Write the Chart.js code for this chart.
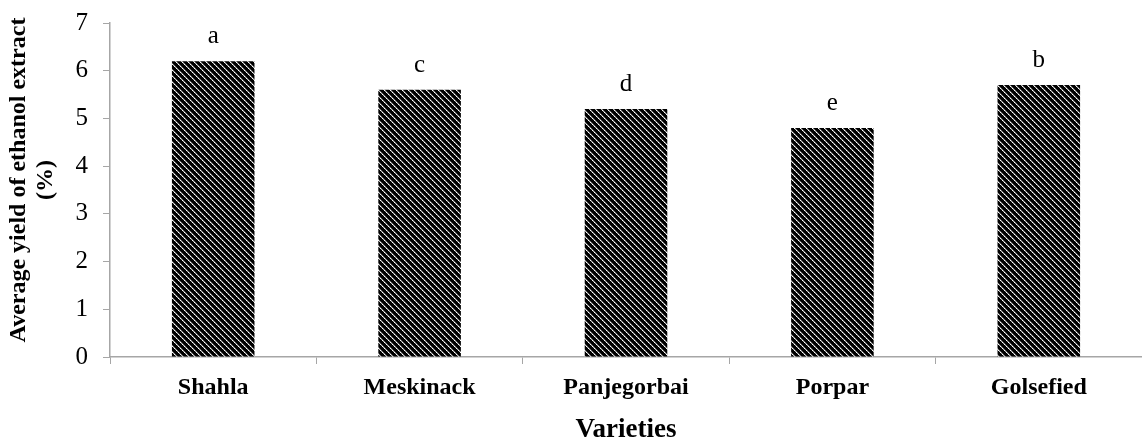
<!DOCTYPE html>
<html>
<head>
<meta charset="utf-8">
<script src="https://cdn.jsdelivr.net/npm/chart.js@4/dist/chart.umd.min.js"></script>
<style>
html,body{margin:0;padding:0;background:#fff;}
#wrap{width:1142px;height:442px;position:relative;}
</style>
</head>
<body>
<div id="wrap"><canvas id="c" width="1142" height="442"></canvas></div>
<script>
const categories = ["Shahla", "Meskinack", "Panjegorbai", "Porpar", "Golsefied"];
const values = [6.2, 5.6, 5.2, 4.8, 5.7];
const letters = ["a", "c", "d", "e", "b"];
const yTicks = [0, 1, 2, 3, 4, 5, 6, 7];
const yTitleLines = ["Average yield of ethanol extract", "(%)"];
const xTitle = "Varieties";

function makePattern() {
  const p = document.createElement('canvas');
  p.width = 6; p.height = 6;
  const g = p.getContext('2d');
  g.fillStyle = '#000';
  g.fillRect(0, 0, 6, 6);
  for (let i = 0; i < 6; i++) {
    g.fillStyle = (i % 2 === 0) ? '#ffffff' : '#bdbdbd';
    g.fillRect(i, i, 1, 1);
    g.fillStyle = '#6a6a6a';
    g.fillRect((i + 1) % 6, i, 1, 1);
  }
  return g.createPattern(p, 'repeat');
}

const serif = '"Liberation Serif", "Times New Roman", serif';

const letterPlugin = {
  id: 'letters',
  afterDatasetsDraw(chart) {
    const ctx = chart.ctx;
    const meta = chart.getDatasetMeta(0);
    ctx.save();
    ctx.font = '25px ' + serif;
    ctx.fillStyle = '#000';
    ctx.textAlign = 'center';
    ctx.textBaseline = 'alphabetic';
    meta.data.forEach((bar, i) => {
      ctx.fillText(letters[i], bar.x, bar.y - 18);
    });
    ctx.restore();
  }
};

const yTitlePlugin = {
  id: 'ytitle',
  afterDraw(chart) {
    const ctx = chart.ctx;
    ctx.save();
    ctx.font = 'bold 24px ' + serif;
    ctx.fillStyle = '#000';
    ctx.textAlign = 'center';
    ctx.textBaseline = 'middle';
    const cy = 180;
    const xs = [19, 46];
    yTitleLines.forEach((t, i) => {
      ctx.save();
      ctx.translate(xs[i], cy);
      ctx.rotate(-Math.PI / 2);
      ctx.fillText(t, 0, 0);
      ctx.restore();
    });
    ctx.restore();
  }
};

const axisColor = '#a6a6a6';

new Chart(document.getElementById('c'), {
  type: 'bar',
  data: {
    labels: categories,
    datasets: [{
      data: values,
      backgroundColor: makePattern(),
      borderWidth: 0,
      barPercentage: 0.4,
      categoryPercentage: 1.0
    }]
  },
  options: {
    responsive: false,
    animation: false,
    devicePixelRatio: 1,
    layout: { padding: { top: 23, right: 0, left: 0, bottom: 0 } },
    plugins: { legend: { display: false }, tooltip: { enabled: false } },
    scales: {
      x: {
        grid: { display: true, drawOnChartArea: false, drawTicks: true, tickLength: 7, color: axisColor, offset: true },
        border: { color: axisColor, width: 1.5 },
        ticks: { color: '#000', font: { family: serif, size: 24, weight: 'bold' }, padding: 9, maxRotation: 0 },
        title: { display: true, text: xTitle, color: '#000', font: { family: serif, size: 27, weight: 'bold', lineHeight: '24px' }, padding: { top: 0, bottom: 0 } },
        afterFit(scale) { scale.height = 85; }
      },
      y: {
        min: 0, max: 7,
        afterBuildTicks(scale) { scale.ticks = yTicks.map(v => ({ value: v })); },
        grid: { display: true, drawOnChartArea: false, drawTicks: true, tickLength: 7, color: axisColor },
        border: { color: axisColor, width: 1.5 },
        ticks: { color: '#000', font: { family: serif, size: 25, lineHeight: 0.6 }, padding: 15 },
        afterFit(scale) { scale.width = 110; scale.paddingTop = 0; scale.paddingBottom = 0; }
      }
    }
  },
  plugins: [letterPlugin, yTitlePlugin]
});
</script>
</body>
</html>
